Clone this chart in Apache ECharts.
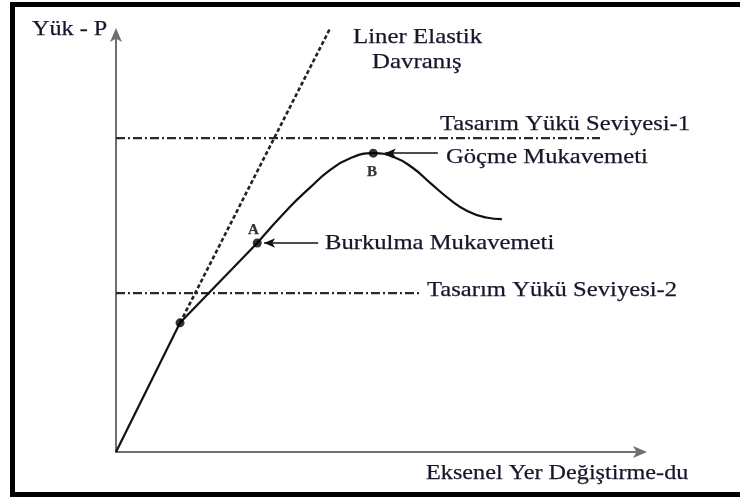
<!DOCTYPE html>
<html>
<head>
<meta charset="utf-8">
<script src="https://cdn.jsdelivr.net/npm/echarts@6/dist/echarts.min.js"></script>
<style>
html,body{margin:0;padding:0;background:#fff}
#chart{width:740px;height:497px}
</style>
</head>
<body>
<div id="chart"></div>
<script>
// load P vs axial displacement du (arbitrary units, 0..10 on both axes)
var elasticPart = [[0, 0], [1.22, 3.09]];
var elasticExtension = [[1.22, 3.09], [4.08, 10.14]];
var preBuckling = [[1.22, 3.09], [2.69, 5.00]];
var collapseCurve = [
    [2.69, 5.00], [3.31, 5.86], [3.70, 6.33], [4.05, 6.72], [4.45, 7.02],
    [4.90, 7.15], [5.30, 7.05], [5.65, 6.80], [6.00, 6.42], [6.35, 6.05],
    [6.70, 5.76], [7.05, 5.61], [7.35, 5.57]
];
var designLevel1 = [[0, 7.51], [9.22, 7.51]];
var designLevel2 = [[0, 3.80], [5.79, 3.80]];
var keyPoints = [[1.22, 3.09], [2.69, 5.00], [4.90, 7.15]];
var arrowBuckling = [[3.85, 5.00], [2.82, 5.00]];
var arrowCollapse = [[6.13, 7.15], [5.12, 7.15]];

var serif = '"Liberation Serif", "DejaVu Serif", serif';
var ink = '#16162a';

function label(text, x, y, size, sx, weight, color) {
    return {
        type: 'text', x: x, y: y, scaleX: sx || 1, z: 10,
        style: {
            text: text,
            font: (weight || 'normal') + ' ' + size + 'px ' + serif,
            fill: color || ink,
            stroke: color || ink,
            lineWidth: 0.25,
            verticalAlign: 'middle'
        }
    };
}

function arrowLine(pts) {
    return {
        type: 'line', data: [], silent: true,
        markLine: {
            silent: true, symbol: ['none', 'arrow'], symbolSize: [7, 11],
            label: {show: false},
            lineStyle: {color: '#111', width: 1.5, type: 'solid'},
            data: [[{coord: pts[0]}, {coord: pts[1]}]]
        }
    };
}

var chart = echarts.init(document.getElementById('chart'));

var option = {
    animation: false,
    backgroundColor: '#fff',
    grid: {left: 116, top: 34, width: 525, height: 418},
    xAxis: {
        type: 'value', min: 0, max: 10,
        axisLine: {lineStyle: {color: '#6f6f6f', width: 2}, symbol: ['none', 'arrow'], symbolSize: [9, 14], symbolOffset: [0, 6]},
        axisTick: {show: false}, axisLabel: {show: false}, splitLine: {show: false}
    },
    yAxis: {
        type: 'value', min: 0, max: 10,
        axisLine: {lineStyle: {color: '#6f6f6f', width: 2}, symbol: ['none', 'arrow'], symbolSize: [9, 14], symbolOffset: [0, 6]},
        axisTick: {show: false}, axisLabel: {show: false}, splitLine: {show: false}
    },
    series: [
        {
            type: 'line', data: designLevel1, symbol: 'none',
            lineStyle: {color: '#2a2a2a', width: 2.2, type: [9, 3, 2, 3]}
        },
        {
            type: 'line', data: designLevel2, symbol: 'none',
            lineStyle: {color: '#2a2a2a', width: 2.2, type: [9, 3, 2, 3]}
        },
        {
            type: 'line', data: elasticExtension, symbol: 'none', clip: false,
            lineStyle: {color: '#222', width: 2.6, type: [4, 2.5]}
        },
        {
            type: 'line', data: elasticPart, symbol: 'none',
            lineStyle: {color: '#111', width: 2.2}
        },
        {
            type: 'line', data: preBuckling, symbol: 'none',
            lineStyle: {color: '#111', width: 2.2}
        },
        {
            type: 'line', data: collapseCurve, symbol: 'none', smooth: 0.5,
            lineStyle: {color: '#111', width: 2.2}
        },
        {
            type: 'scatter', data: keyPoints, symbolSize: 9,
            itemStyle: {color: '#000'}, z: 5
        },
        arrowLine(arrowBuckling),
        arrowLine(arrowCollapse)
    ],
    graphic: [
        {
            type: 'rect', silent: true,
            shape: {x: 12.5, y: 4.5, width: 760, height: 490},
            style: {fill: 'none', stroke: '#000', lineWidth: 5}
        },
        label('Yük - P', 32, 29, 22, 1.1),
        label('Liner Elastik', 353, 37, 22, 1.13),
        label('Davranış', 372, 62, 22, 1.13),
        label('Tasarım Yükü Seviyesi-1', 440, 124, 22, 1.12),
        label('Göçme Mukavemeti', 446, 157, 22, 1.12),
        label('Burkulma Mukavemeti', 325, 243, 22, 1.12),
        label('Tasarım Yükü Seviyesi-2', 427, 290, 22, 1.12),
        label('Eksenel Yer Değiştirme-du', 426, 473, 22, 1.1),
        label('A', 248, 230, 15, 1, 'bold', '#333'),
        label('B', 367, 172, 15, 1, 'bold', '#333')
    ]
};

chart.setOption(option);
</script>
</body>
</html>
